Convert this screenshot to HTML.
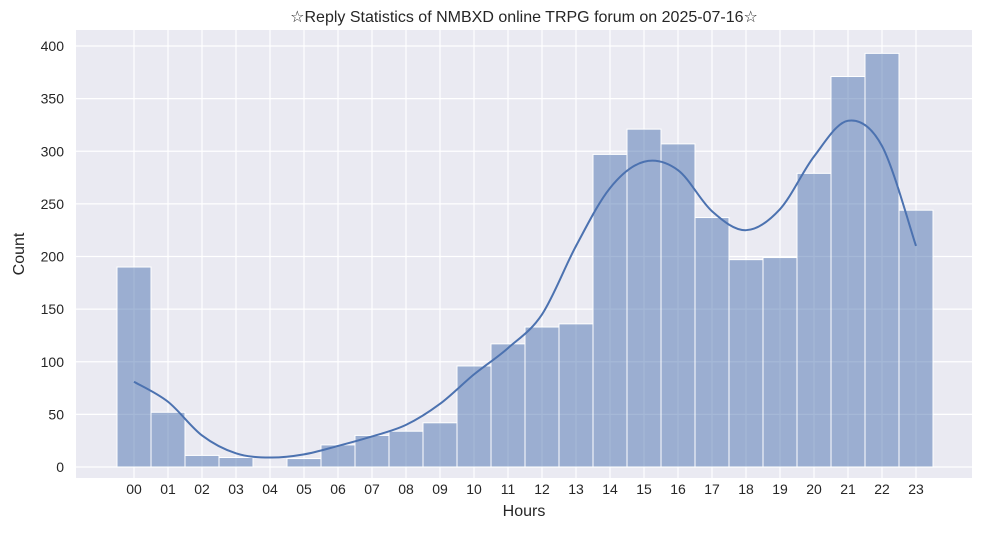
<!DOCTYPE html>
<html><head><meta charset="utf-8"><style>
body{margin:0;background:#fff;}
svg text{font-family:"Liberation Sans","DejaVu Sans",sans-serif;fill:#262626;}
</style></head><body>
<svg id="chart" width="984" height="529" xmlns="http://www.w3.org/2000/svg">
<rect x="76" y="30" width="896" height="448" fill="#eaeaf2"/>
<g id="grid"></g><g id="bars"></g><g id="kde"></g><g id="ticks"></g>
<text x="524" y="22" text-anchor="middle" font-size="16">☆Reply Statistics of NMBXD online TRPG forum on 2025-07-16☆</text>
<text x="524" y="516" text-anchor="middle" font-size="16">Hours</text>
<text transform="translate(24,254) rotate(-90)" text-anchor="middle" font-size="16">Count</text>
</svg>
<script>
const categories=["00","01","02","03","04","05","06","07","08","09","10","11","12","13","14","15","16","17","18","19","20","21","22","23"];
const counts=[190,52,11,9,0,8,21,30,34,42,96,117,133,136,297,321,307,237,197,199,279,371,393,244];
const kdeValues=[81,62,30,13,9,12,20,29,40,60,88,113,145,210,265,290,282,243,225,245,295,329,305,210];
const yTicks=[0,50,100,150,200,250,300,350,400];
const NS="http://www.w3.org/2000/svg";
const x=i=>134+i*34, y=v=>467-v*1.0525, bw=34;
function mk(t,a,p){const e=document.createElementNS(NS,t);for(const k in a)e.setAttribute(k,a[k]);p.appendChild(e);return e;}
const grid=document.getElementById('grid'),ticks=document.getElementById('ticks');
yTicks.forEach(v=>{
 const l=mk('line',{x1:76,x2:972,y1:y(v),y2:y(v),stroke:'#fff','stroke-width':1.2},grid);
 
 
 const t=mk('text',{x:64,y:y(v)+5,'text-anchor':'end','font-size':14},ticks);t.textContent=v;
 
 
});
categories.forEach((c,i)=>{
 const l=mk('line',{x1:x(i),x2:x(i),y1:30,y2:478,stroke:'#fff','stroke-width':1.2},grid);
 
 
 const t=mk('text',{x:x(i),y:494,'text-anchor':'middle','font-size':14},ticks);t.textContent=c;
 
 
});
const bars=document.getElementById('bars');
counts.forEach((v,i)=>{
 const r=mk('rect',{x:x(i)-bw/2,y:y(v),width:bw,height:467-y(v),fill:'#4c72b0','fill-opacity':0.5,stroke:'#fff','stroke-width':1},bars);
 
 
});
const pts=kdeValues.map((v,i)=>[x(i),y(v)]);
let d='M'+pts[0][0]+','+pts[0][1];
for(let i=0;i<pts.length-1;i++){
 const p0=pts[Math.max(0,i-1)],p1=pts[i],p2=pts[i+1],p3=pts[Math.min(pts.length-1,i+2)];
 d+=` C${p1[0]+(p2[0]-p0[0])/6},${p1[1]+(p2[1]-p0[1])/6} ${p2[0]-(p3[0]-p1[0])/6},${p2[1]-(p3[1]-p1[1])/6} ${p2[0]},${p2[1]}`;
}
const k=mk('path',{d:d,fill:'none',stroke:'#4c72b0','stroke-width':2},document.getElementById('kde'));


</script>
</body></html>
